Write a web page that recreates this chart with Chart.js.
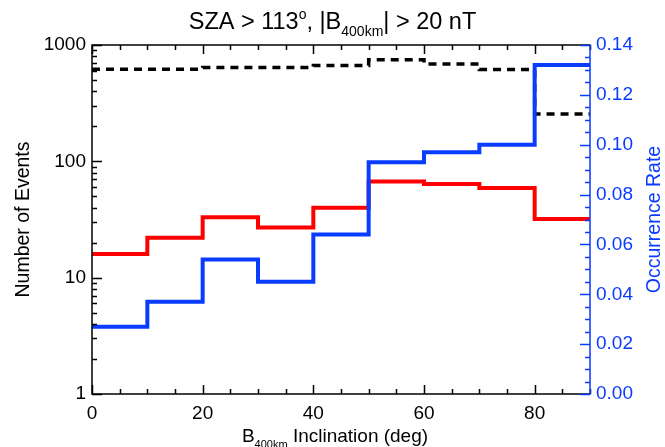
<!DOCTYPE html>
<html>
<head>
<meta charset="utf-8">
<script src="https://cdn.jsdelivr.net/npm/chart.js@4.4.1/dist/chart.umd.min.js"></script>
<style>
  html, body { margin: 0; padding: 0; background: #fff; }
  #wrap { width: 665px; height: 447px; }
</style>
</head>
<body>
<div id="wrap"><canvas id="c" width="665" height="447"></canvas></div>
<script>
// Histogram bins of B400km inclination (deg)
const binEdges = [0, 10, 20, 30, 40, 50, 60, 70, 80, 90];
// All events per bin (black dashed, left log axis)
const totalEvents = [620, 620, 640, 640, 665, 745, 685, 615, 255];
// Events with SZA > 113 and |B400km| > 20 nT (red, left log axis)
const selectedEvents = [16, 22, 33, 27, 40, 67, 64, 59, 32];
// Occurrence rate per bin (blue, right axis)
const occurrenceRate = [0.027, 0.037, 0.054, 0.045, 0.064, 0.093, 0.097, 0.100, 0.132];

// Tick labels
const xTickValues = [0, 20, 40, 60, 80];
const countTickValues = [1, 10, 100, 1000];
const rateTickValues = [0.00, 0.02, 0.04, 0.06, 0.08, 0.10, 0.12, 0.14];

const BLUE = '#0a3cff';
const RED = '#ff0000';
const FAMILY = '"Liberation Sans", Arial, Helvetica, sans-serif';

// Turn per-bin values into step points: one point at each left edge plus the closing right edge
function steps(values) {
  const pts = values.map((v, i) => ({ x: binEdges[i], y: v }));
  pts.push({ x: binEdges[values.length], y: values[values.length - 1] });
  return pts;
}

// Draws a string made of normal / subscript / superscript pieces, centred on cx
function richText(ctx, parts, cx, baseline, size, color) {
  const spec = parts.map(([t, k]) => ({ t, k, s: k === 'n' ? size : Math.round(size * 0.6) }));
  let w = 0;
  spec.forEach(p => { ctx.font = `${p.s}px ${FAMILY}`; p.w = ctx.measureText(p.t).width; w += p.w; });
  let x = cx - w / 2;
  ctx.fillStyle = color;
  ctx.textAlign = 'left';
  ctx.textBaseline = 'alphabetic';
  spec.forEach(p => {
    ctx.font = `${p.s}px ${FAMILY}`;
    const dy = p.k === 'sub' ? size * 0.3 : (p.k === 'sup' ? -size * 0.42 : 0);
    ctx.fillText(p.t, x, baseline + dy);
    x += p.w;
  });
}

// Axis frame with inward ticks (IDL style)
const framePlugin = {
  id: 'frame',
  afterDatasetsDraw(chart) {
    const { ctx, chartArea: a, scales } = chart;
    const xs = scales.x, yl = scales.yL, yr = scales.yR;
    ctx.save();
    ctx.lineWidth = 1.5;
    ctx.lineCap = 'butt';
    ctx.strokeStyle = '#000';
    ctx.beginPath();
    ctx.moveTo(a.right, a.top); ctx.lineTo(a.left, a.top);
    ctx.lineTo(a.left, a.bottom); ctx.lineTo(a.right, a.bottom);
    ctx.stroke();

    // x ticks, bottom and top: major every 20, minor every 5
    ctx.beginPath();
    for (let v = xs.min; v <= xs.max; v += 5) {
      const px = Math.round(xs.getPixelForValue(v)) + 0.5;
      const len = v % 20 === 0 ? 9 : 5;
      ctx.moveTo(px, a.bottom); ctx.lineTo(px, a.bottom - len);
      ctx.moveTo(px, a.top); ctx.lineTo(px, a.top + len);
    }
    // left log ticks
    for (let d = 1; d < yl.max; d *= 10) {
      for (let m = 1; m <= 9; m++) {
        const py = Math.round(yl.getPixelForValue(d * m)) + 0.5;
        const len = m === 1 ? 10 : 5;
        ctx.moveTo(a.left, py); ctx.lineTo(a.left + len, py);
      }
    }
    const pTop = Math.round(yl.getPixelForValue(yl.max)) + 0.5;
    ctx.moveTo(a.left, pTop); ctx.lineTo(a.left + 10, pTop);
    ctx.stroke();

    // right axis in blue
    ctx.strokeStyle = BLUE;
    ctx.beginPath();
    ctx.moveTo(a.right, a.top - 0.75); ctx.lineTo(a.right, a.bottom + 0.75);
    const nMinor = Math.round((yr.max - yr.min) / 0.005);
    for (let k = 0; k <= nMinor; k++) {
      const py = Math.round(yr.getPixelForValue(yr.min + k * 0.005)) + 0.5;
      const len = k % 4 === 0 ? 10 : 5;
      ctx.moveTo(a.right, py); ctx.lineTo(a.right - len, py);
    }
    ctx.stroke();
    ctx.restore();
  }
};

// Title and axis titles (with sub/superscripts)
const textPlugin = {
  id: 'titles',
  afterDraw(chart) {
    const { ctx, chartArea: a } = chart;
    ctx.save();
    richText(ctx, [['SZA > 113', 'n'], ['o', 'sup'], [', |B', 'n'], ['400km', 'sub'], ['| > 20 nT', 'n']],
      chart.width / 2, 29, 23.5, '#000');
    richText(ctx, [['B', 'n'], ['400km', 'sub'], [' Inclination (deg)', 'n']],
      335, 442, 19, '#000');
    const cy = (a.top + a.bottom) / 2;
    ctx.save();
    ctx.translate(29, cy); ctx.rotate(-Math.PI / 2);
    richText(ctx, [['Number of Events', 'n']], 0, 0, 19.5, '#000');
    ctx.restore();
    ctx.save();
    ctx.translate(660, cy); ctx.rotate(-Math.PI / 2);
    richText(ctx, [['Occurrence Rate', 'n']], 0, 0, 19.5, BLUE);
    ctx.restore();
    ctx.restore();
  }
};

const tickFont = { family: FAMILY, size: 19 };

new Chart(document.getElementById('c').getContext('2d'), {
  type: 'line',
  data: {
    datasets: [
      { label: 'Occurrence Rate', data: steps(occurrenceRate), yAxisID: 'yR',
        borderColor: BLUE, borderWidth: 4, stepped: 'before', pointRadius: 0, fill: false, order: 0 },
      { label: 'Selected events', data: steps(selectedEvents), yAxisID: 'yL',
        borderColor: RED, borderWidth: 4, stepped: 'before', pointRadius: 0, fill: false, order: 1 },
      { label: 'All events', data: steps(totalEvents), yAxisID: 'yL',
        borderColor: '#000', borderWidth: 3.5, borderDash: [8, 6], borderCapStyle: 'butt',
        stepped: 'before', pointRadius: 0, fill: false, order: 2 }
    ]
  },
  options: {
    responsive: false,
    animation: false,
    layout: { padding: { top: 45, left: 0, right: 0, bottom: 0 } },
    plugins: { legend: { display: false }, tooltip: { enabled: false }, title: { display: false } },
    scales: {
      x: {
        type: 'linear', min: binEdges[0], max: binEdges[binEdges.length - 1],
        grid: { display: false, drawTicks: false }, border: { display: false },
        afterBuildTicks: s => { s.ticks = xTickValues.map(v => ({ value: v })); },
        afterFit: s => { s.height = 53; },
        ticks: { font: tickFont, color: '#000', padding: 8, maxRotation: 0, autoSkip: false,
                 callback: v => String(v) }
      },
      yL: {
        type: 'logarithmic', position: 'left', min: countTickValues[0], max: countTickValues[countTickValues.length - 1],
        grid: { display: false, drawTicks: false }, border: { display: false },
        afterBuildTicks: s => { s.ticks = countTickValues.map(v => ({ value: v })); },
        afterFit: s => { s.width = 92; },
        ticks: { font: tickFont, color: '#000', padding: 6, autoSkip: false, callback: v => String(v) }
      },
      yR: {
        type: 'linear', position: 'right', min: rateTickValues[0], max: rateTickValues[rateTickValues.length - 1],
        grid: { display: false, drawTicks: false }, border: { display: false },
        afterBuildTicks: s => { s.ticks = rateTickValues.map(v => ({ value: v })); },
        afterFit: s => { s.width = 75; },
        ticks: { font: tickFont, color: BLUE, padding: 6, autoSkip: false, callback: v => Number(v).toFixed(2) }
      }
    }
  },
  plugins: [framePlugin, textPlugin]
});
</script>
</body>
</html>
